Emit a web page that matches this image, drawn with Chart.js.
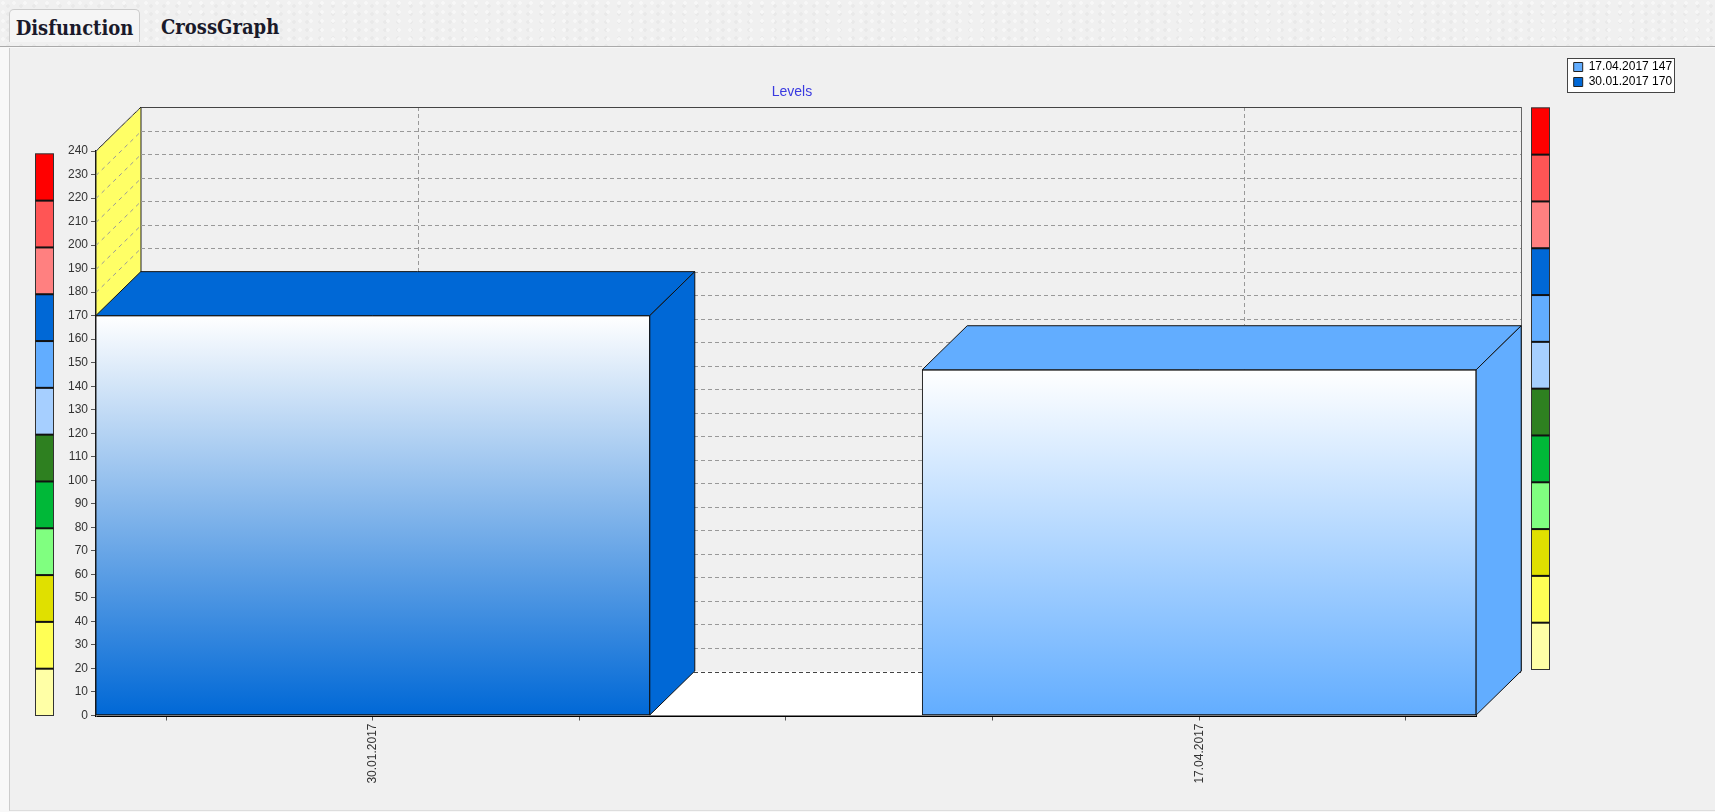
<!DOCTYPE html>
<html>
<head>
<meta charset="utf-8">
<title>Disfunction</title>
<script src="https://cdn.jsdelivr.net/npm/chart.js@4"></script>
<style>
  html, body { margin: 0; padding: 0; width: 1715px; height: 812px; overflow: hidden; background: #f8f8f8; }
  .abas {
    position: absolute; left: 0; top: 0; width: 1715px; height: 46px;
    background-color: #f0f0f0;
    background-image:
      radial-gradient(circle at 3px 3px, #f7f7f7 1.5px, transparent 2px),
      radial-gradient(circle at 8px 6px, #e9e9e9 1.5px, transparent 2px);
    background-size: 11px 9px, 13px 8px;
    border-bottom: 1px solid #aaa;
  }
  .aba {
    position: absolute; top: 9px; height: 33px; line-height: 36px;
    font-family: "DejaVu Serif", serif; font-stretch: condensed; font-weight: bold; font-size: 20px; color: #1a1a2a;
    white-space: nowrap;
  }
  .aba.ativa { left: 9px; width: 131px; background: #f5f5f5; border: 1px solid #ccc; border-bottom: none; border-radius: 5px 5px 0 0; box-sizing: border-box; text-align: center; }
  .painel { position: absolute; left: 9px; top: 48px; width: 1706px; height: 763px; background: #f0f0f0; border-left: 1px solid #ccc; border-bottom: 1px solid #ddd; box-sizing: border-box; }
  canvas { position: absolute; left: 0; top: 0; }
</style>
</head>
<body>
<div class="abas">
  <div class="aba ativa">Disfunction</div>
  <div class="aba" style="left:161px">CrossGraph</div>
</div>
<div class="painel"></div>
<canvas id="graficoNiveis" width="1715" height="812"></canvas>

<script>
const datas = ['30.01.2017', '17.04.2017'];
const diasDatas = [0, 77];
const niveis = [170, 147];
const coresBarras = ['#0068d6', '#62adff'];
const diasTicks = [-19.25, 0, 19.25, 38.5, 57.75, 77, 96.25];
const limitesFaixas = [0, 20, 40, 60, 80, 100, 120, 140, 160, 180, 200, 220, 240];
const coresFaixas = ['#ffffa6', '#ffff55', '#e0e000', '#80ff80', '#00b838', '#2e8020',
  '#a6cfff', '#62adff', '#0068d6', '#ff8080', '#ff5555', '#ff0000'];

// profundidade do efeito 3D
const PROF_X = 45;
const PROF_Y = 44;

function poligono(ctx, pontos, fill, stroke) {
  ctx.beginPath();
  pontos.forEach((p, i) => i ? ctx.lineTo(p[0], p[1]) : ctx.moveTo(p[0], p[1]));
  ctx.closePath();
  ctx.fillStyle = fill;
  ctx.fill();
  if (stroke) {
    ctx.strokeStyle = stroke;
    ctx.lineWidth = 1;
    ctx.stroke();
  }
}

function linha(ctx, x1, y1, x2, y2, cor, tracos) {
  ctx.beginPath();
  ctx.setLineDash(tracos || []);
  ctx.strokeStyle = cor;
  ctx.lineWidth = 1;
  ctx.moveTo(x1, y1);
  ctx.lineTo(x2, y2);
  ctx.stroke();
  ctx.setLineDash([]);
}

function desenharFaixas(ctx, escala, x, largura, deslocY) {
  const base = escala.getPixelForValue(0);
  const py = v => base - (base - escala.getPixelForValue(v)) * 0.995 - deslocY;
  coresFaixas.forEach((cor, i) => {
    ctx.fillStyle = cor;
    ctx.fillRect(x, py(limitesFaixas[i + 1]), largura, py(limitesFaixas[i]) - py(limitesFaixas[i + 1]));
  });
  ctx.strokeStyle = '#333';
  ctx.lineWidth = 1;
  ctx.strokeRect(x, py(240), largura, py(0) - py(240));
  limitesFaixas.slice(1, -1).forEach(v => {
    ctx.fillStyle = '#111';
    ctx.fillRect(x, py(v) - 1, largura, 2);
  });
}

const cenario3D = {
  id: 'cenario3D',
  afterLayout(chart) {
    // legenda no canto superior direito, titulo um pouco deslocado
    const leg = chart.legend;
    leg.left = 1570.7;
    leg.right = leg.left + leg.width;
    leg.top = 58;
    leg.bottom = leg.top + leg.height;
    chart.titleBlock.left += 6;
    chart.titleBlock.right += 6;
  },
  beforeDraw(chart) {
    const ctx = chart.ctx;
    ctx.save();
    ctx.fillStyle = '#fff';
    ctx.strokeStyle = '#444';
    ctx.lineWidth = 1;
    ctx.fillRect(1567.5, 58.5, 107, 34);
    ctx.strokeRect(1567.5, 58.5, 107, 34);
    ctx.restore();
  },
  beforeDatasetsDraw(chart) {
    const ctx = chart.ctx;
    const { left, right, top, bottom } = chart.chartArea;
    const y = chart.scales.y;
    const x = chart.scales.x;
    ctx.save();

    // parede lateral amarela e piso branco
    poligono(ctx, [[left, top], [left + PROF_X, top - PROF_Y], [left + PROF_X, bottom - PROF_Y], [left, bottom]], '#ffff66', '#222');
    poligono(ctx, [[left, bottom], [left + PROF_X, bottom - PROF_Y], [right + PROF_X, bottom - PROF_Y], [right, bottom]], '#ffffff');

    // grade no fundo
    y.ticks.forEach(t => {
      const py = Math.round(y.getPixelForValue(t.value)) + 0.5;
      linha(ctx, left, py, left + PROF_X, py - PROF_Y, '#999', [4, 4]);
      const cor = (t.value === 0 || t.value === 240) ? '#444' : '#999';
      linha(ctx, left + PROF_X, py - PROF_Y, right + PROF_X, py - PROF_Y, cor, [4, 3]);
    });
    diasDatas.forEach(d => {
      const px = Math.round(x.getPixelForValue(d) + PROF_X) + 0.5;
      linha(ctx, px, top - PROF_Y, px, bottom - PROF_Y, '#999', [4, 3]);
    });
    linha(ctx, left + PROF_X, top - PROF_Y + 0.5, right + PROF_X, top - PROF_Y + 0.5, '#444');
    linha(ctx, right + PROF_X + 0.5, top - PROF_Y, right + PROF_X + 0.5, bottom - PROF_Y, '#666');

    // escalas coloridas dos dois lados
    desenharFaixas(ctx, y, 35.5, 18, 0);
    desenharFaixas(ctx, y, right + 55.5, 18, PROF_Y + 2);
    ctx.restore();
  },
  afterDatasetsDraw(chart) {
    const ctx = chart.ctx;
    ctx.save();
    chart.getDatasetMeta(0).data.forEach((barra, i) => {
      const x0 = barra.x - barra.width / 2;
      const x1 = barra.x + barra.width / 2;
      const yt = barra.y;
      const yb = barra.base;
      const cor = coresBarras[i];
      poligono(ctx, [[x0, yt], [x0 + PROF_X, yt - PROF_Y], [x1 + PROF_X, yt - PROF_Y], [x1, yt]], cor, '#111');
      poligono(ctx, [[x1, yt], [x1 + PROF_X, yt - PROF_Y], [x1 + PROF_X, yb - PROF_Y], [x1, yb]], cor, '#111');
    });
    ctx.restore();
  }
};

function gradienteBarra(contexto) {
  const { chart, dataIndex } = contexto;
  const y = chart.scales.y;
  if (dataIndex === undefined || !y) return coresBarras[0];
  const g = chart.ctx.createLinearGradient(0, y.getPixelForValue(niveis[dataIndex]), 0, y.getPixelForValue(0));
  g.addColorStop(0, '#ffffff');
  g.addColorStop(1, coresBarras[dataIndex]);
  return g;
}

const ctx = document.getElementById('graficoNiveis').getContext('2d');
new Chart(ctx, {
  type: 'bar',
  data: {
    datasets: [{
      label: 'Levels',
      data: diasDatas.map((d, i) => ({ x: d, y: niveis[i] })),
      backgroundColor: gradienteBarra,
      borderColor: '#111',
      borderWidth: 1,
      borderSkipped: false,
      barThickness: 554
    }]
  },
  options: {
    responsive: false,
    animation: false,
    layout: { padding: { left: 36, right: 239, top: 84, bottom: 26.5 } },
    plugins: {
      tooltip: { enabled: false },
      title: {
        display: true,
        text: 'Levels',
        fullSize: false,
        color: '#3a3ae0',
        font: { family: '"Liberation Sans", Arial, sans-serif', size: 14, weight: 'normal' },
        padding: { top: 0, bottom: 50.2 }
      },
      legend: {
        position: 'chartArea',
        align: 'start',
        onClick: null,
        labels: {
          boxWidth: 9,
          boxHeight: 9,
          padding: 3,
          color: '#333',
          font: { family: '"Liberation Sans", Arial, sans-serif', size: 12 },
          generateLabels: () => datas.map((d, i) => ({
            text: `${d} ${niveis[i]}`,
            fillStyle: coresBarras[i],
            strokeStyle: '#222',
            lineWidth: 1,
            hidden: false
          })).reverse()
        }
      }
    },
    scales: {
      x: {
        type: 'linear',
        offset: false,
        min: -25.79,
        max: 102.79,
        afterFit: s => { s.height = 70; },
        afterBuildTicks: s => { s.ticks = diasTicks.map(v => ({ value: v })); },
        border: { color: '#000', width: 2 },
        grid: { offset: false, drawOnChartArea: false, tickLength: 5, tickColor: '#555' },
        ticks: {
          autoSkip: false,
          maxRotation: 90,
          minRotation: 90,
          padding: 3,
          color: '#333',
          font: { family: '"Liberation Sans", Arial, sans-serif', size: 12 },
          callback: v => {
            const i = diasDatas.indexOf(v);
            return i >= 0 ? datas[i] : '';
          }
        }
      },
      y: {
        min: 0,
        max: 240,
        afterFit: s => { s.width = 60; },
        border: { color: '#111', width: 2 },
        grid: { drawOnChartArea: false, tickLength: 5, tickColor: '#555' },
        ticks: {
          stepSize: 10,
          autoSkip: false,
          padding: 3,
          color: '#333',
          font: { family: '"Liberation Sans", Arial, sans-serif', size: 12 }
        }
      }
    }
  },
  plugins: [cenario3D]
});
</script>
</body>
</html>
